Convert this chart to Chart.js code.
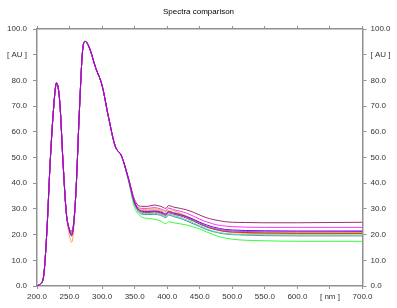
<!DOCTYPE html>
<html>
<head>
<meta charset="utf-8">
<script src="https://cdn.jsdelivr.net/npm/chart.js@4"></script>
<style>
    html, body { margin: 0; padding: 0; background: #fff; }
    #chart { display: block; }
</style>
</head>
<body>
<canvas id="chart" width="397" height="308"></canvas>
<script>
// wavelengths in nm
const wavelengths = [200, 205, 210, 215, 220, 225, 230, 235, 240, 245, 250, 253, 256, 260, 265, 270, 274, 280, 290, 300, 310, 320, 330,
    340, 350, 360, 370, 380, 390, 398, 402, 410, 420, 430, 440, 450, 460, 470, 480, 490, 500, 520, 550, 600, 650, 700];

// absorbance [AU], one array per spectrum
const maroon = [0, 0.8, 3.5, 20.5, 47, 67.5, 79, 71.5, 48, 28.5, 22, 20.5, 23.5, 37.5, 67.5, 91.5, 95.2, 93, 85, 78, 65.5, 54.5, 50.5,
    42.5, 33.5, 31, 31, 31.5, 31, 30.2, 31.3, 30.7, 30.2, 29.6, 28.7, 27.6, 26.6, 25.9, 25.4, 25, 24.8, 24.7, 24.6, 24.6, 24.7, 24.8];
const magenta = [0, 0.8, 3.5, 20.5, 47, 67.5, 79, 71.5, 48, 28.5, 21.5, 20, 23, 37.5, 67.5, 91.5, 95.2, 93, 85, 78, 65.5, 54.5, 50.5,
    42.3, 33, 30.2, 30.2, 30.5, 30, 29.2, 30.3, 29.7, 29.1, 28.3, 27.2, 26, 25, 24.2, 23.6, 23.3, 23.1, 22.9, 22.8, 22.8, 22.8, 22.8];
const purple = [0, 0.8, 3.5, 20.5, 47, 67.5, 79, 71.5, 48, 28.5, 21.5, 19.5, 23, 37.5, 67.5, 91.5, 95.2, 93, 85, 78, 65.5, 54.5, 50.5,
    42.2, 32.5, 29.2, 29, 29.2, 28.8, 28, 29, 28.4, 27.8, 27, 26, 24.8, 23.8, 23, 22.4, 22, 21.8, 21.6, 21.5, 21.4, 21.4, 21.4];
const violet = [0, 0.8, 3.5, 20.5, 47, 67.5, 79, 71.5, 48, 28.5, 22, 21.5, 24, 37.5, 67.5, 91.5, 95.2, 93, 85, 78, 65.5, 54.5, 50.5,
    42, 32.3, 29, 28.8, 29, 28.6, 27.7, 28.7, 28.1, 27.5, 26.7, 25.6, 24.4, 23.3, 22.5, 22, 21.6, 21.4, 21.2, 21.1, 21.1, 21.1, 21.2];
const red = [0, 0.8, 3.5, 20.5, 47, 67.5, 79, 71.5, 48, 28.5, 21.5, 20, 23, 37.5, 67.5, 91.5, 95.2, 93, 85, 78, 65.5, 54.5, 50.5,
    42, 32.2, 28.8, 28.6, 28.8, 28.3, 27.5, 28.5, 27.9, 27.3, 26.4, 25.3, 24.1, 23, 22.2, 21.6, 21.2, 21, 20.8, 20.6, 20.5, 20.5, 20.5];
const yellow = [0, 0.8, 3.5, 20.5, 47, 67.5, 79, 71.5, 48, 28.5, 21.5, 20.5, 23.5, 37.5, 67.5, 91.5, 95.2, 93, 85, 78, 65.5, 54.5, 50.5,
    42.2, 32.8, 29.8, 29.8, 30, 29.5, 28.7, 30.2, 29.3, 28.4, 27.2, 26, 24.6, 23.4, 22.5, 21.8, 21.3, 21.1, 20.9, 20.8, 20.7, 20.7, 20.8];
const orange = [0, 0.8, 3.5, 20.5, 47, 67.5, 79, 71.5, 48, 28.5, 19.5, 17, 21, 37.5, 67.5, 91.5, 95.2, 93, 85, 78, 65.5, 54.5, 50.5,
    42.2, 32.6, 29.5, 29.4, 29.6, 29.1, 28.3, 29.3, 28.7, 28, 27, 25.8, 24.5, 23.2, 22.3, 21.6, 21.1, 20.8, 20.5, 20.3, 20.2, 20.2, 20.3];
const lightblue = [0, 0.8, 3.5, 20.5, 47, 67.5, 79, 71.5, 48, 28.5, 22, 21.5, 24, 37.5, 67.5, 91.5, 95.2, 93, 85, 78, 65.5, 54.5, 50.5,
    41.9, 32, 28.3, 28.2, 28.3, 27.9, 27, 28, 27.4, 26.7, 25.7, 24.6, 23.4, 22.3, 21.4, 20.8, 20.4, 20.2, 20, 19.9, 19.8, 19.8, 19.8];
const teal = [0, 0.8, 3.5, 20.5, 47, 67.5, 79, 71.5, 48, 28.5, 22, 21, 24, 37.5, 67.5, 91.5, 95.2, 93, 85, 78, 65.5, 54.5, 50.5,
    41.8, 31.8, 28, 27.8, 27.9, 27.5, 26.6, 27.6, 27, 26.3, 25.3, 24.2, 23.1, 22, 21.2, 20.6, 20.2, 20, 19.8, 19.6, 19.5, 19.5, 19.5];
const green = [0, 0.8, 3.5, 20.5, 47, 67.5, 79, 71.5, 48, 28.5, 21.5, 19.5, 23, 37.5, 67.5, 91.5, 95.2, 93, 85, 78, 65.5, 54.5, 50.5,
    41.3, 30.5, 27, 26.3, 26, 25.3, 24.2, 25, 24.6, 24.2, 23.7, 23, 22.2, 21.1, 20.1, 19.2, 18.6, 18.2, 17.8, 17.6, 17.4, 17.4, 17.4];

const xTickLabels = ["200.0", "250.0", "300.0", "350.0", "400.0", "450.0", "500.0", "550.0", "600.0", "[ nm ]", "700.0"];
const yTickLabels = ["0.0", "10.0", "20.0", "30.0", "40.0", "50.0", "60.0", "70.0", "80.0", "[ AU ]", "100.0"];

// drawn top-first: index 0 ends up on top
const spectra = [
    { name: "S1", values: purple, color: "#9900cc" },
    { name: "S2", values: magenta, color: "#ff33ff" },
    { name: "S3", values: maroon, color: "#993366" },
    { name: "S4", values: violet, color: "#6666ff" },
    { name: "S5", values: red, color: "#cc3300" },
    { name: "S6", values: yellow, color: "#cccc33" },
    { name: "S7", values: orange, color: "#ff9966" },
    { name: "S8", values: lightblue, color: "#66cccc" },
    { name: "S9", values: teal, color: "#339999" },
    { name: "S10", values: green, color: "#33ff33" },
];

const axisColor = "#909090";
const labelColor = "#333333";

Chart.defaults.font.family = "'Liberation Sans', Arial, sans-serif";
Chart.defaults.font.size = 8;
Chart.defaults.color = labelColor;

const edge = (size) => ({
    display: true,
    color: axisColor,
    drawOnChartArea: false,
    drawTicks: true,
    tickLength: size,
});

new Chart(document.getElementById("chart"), {
    type: "line",
    data: {
        datasets: spectra.map((s) => ({
            label: s.name,
            data: wavelengths.map((w, i) => ({ x: w, y: s.values[i] })),
            borderColor: s.color,
            backgroundColor: s.color,
            borderWidth: 1,
            pointRadius: 0,
            fill: false,
            cubicInterpolationMode: "monotone",
            xAxisID: "x",
            yAxisID: "y",
        })),
    },
    options: {
        responsive: false,
        animation: false,
        layout: { padding: 0 },
        plugins: {
            legend: { display: false },
            tooltip: { enabled: false },
            title: {
                display: true,
                text: "Spectra comparison",
                color: "#000",
                font: { size: 8, weight: "normal" },
                padding: { top: 7, bottom: 0 },
            },
        },
        scales: {
            x: {
                type: "linear",
                position: "bottom",
                min: 200,
                max: 700,
                grid: edge(3),
                border: { display: true, color: axisColor, width: 1.5 },
                ticks: {
                    stepSize: 50,
                    padding: 3,
                    maxRotation: 0,
                    autoSkip: false,
                    callback: (v, i) => xTickLabels[i],
                },
                afterFit: (scale) => { scale.height = 22; },
            },
            xTop: {
                type: "linear",
                position: "top",
                display: true,
                min: 200,
                max: 700,
                grid: edge(3),
                border: { display: true, color: axisColor, width: 1.5 },
                ticks: { stepSize: 50, display: false },
                afterFit: (scale) => { scale.height = 12.4; },
            },
            y: {
                type: "linear",
                position: "left",
                min: 0,
                max: 100,
                grid: edge(4),
                border: { display: true, color: axisColor, width: 1.5 },
                ticks: {
                    stepSize: 10,
                    padding: 6,
                    callback: (v, i) => yTickLabels[i],
                },
                afterFit: (scale) => { scale.width = 37; },
            },
            yRight: {
                type: "linear",
                position: "right",
                display: true,
                min: 0,
                max: 100,
                grid: edge(4),
                border: { display: true, color: axisColor, width: 1.5 },
                ticks: {
                    stepSize: 10,
                    padding: 4,
                    callback: (v, i) => yTickLabels[i],
                },
                afterFit: (scale) => { scale.width = 34.5; },
            },
        },
    },
});
</script>
</body>
</html>
